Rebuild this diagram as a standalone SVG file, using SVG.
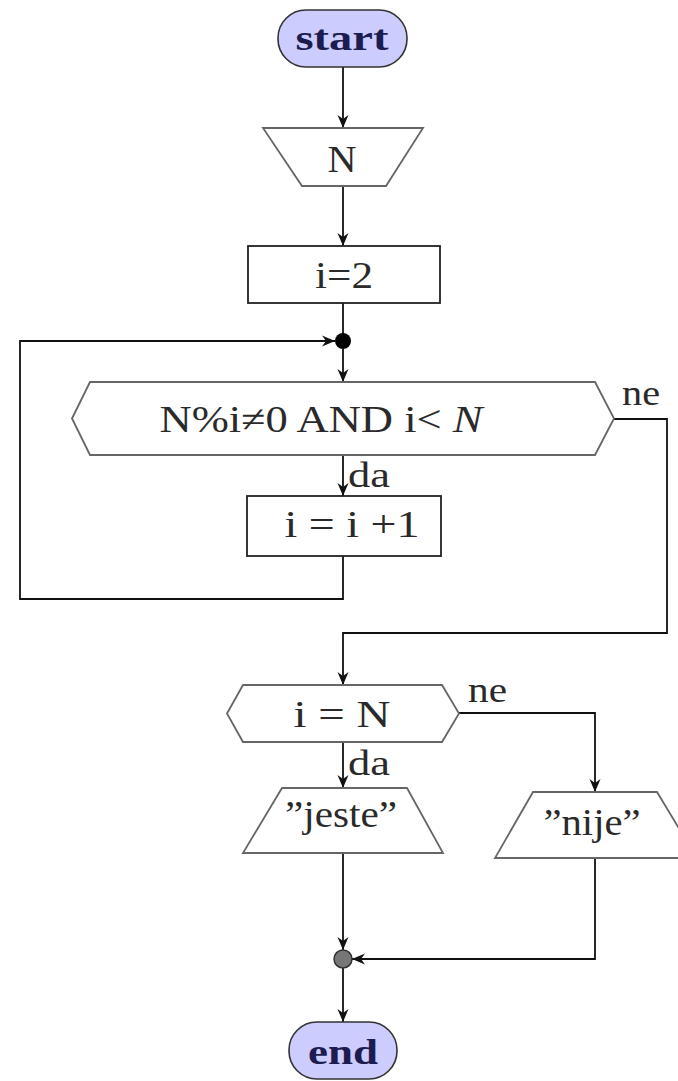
<svg xmlns="http://www.w3.org/2000/svg" width="678" height="1081" viewBox="0 0 678 1081">
<style>
.term{fill:#ccccff;stroke:#333;stroke-width:1.6}
.box{fill:#fff;stroke:#222;stroke-width:1.8}
.shape{fill:#fff;stroke:#666;stroke-width:1.8}
.t{font-family:"Liberation Serif","DejaVu Serif",serif;font-size:38px;fill:#2a2a2a;text-anchor:middle}
.tb{font-family:"Liberation Serif","DejaVu Serif",serif;font-size:36px;font-weight:bold;fill:#1c1c50;text-anchor:middle}
.lbl{font-family:"Liberation Serif","DejaVu Serif",serif;font-size:36px;fill:#2a2a2a}
.c{fill:none;stroke:#111;stroke-width:1.8}
</style>
<defs>
<marker id="arr" markerUnits="userSpaceOnUse" markerWidth="16" markerHeight="14" viewBox="-15 -7 16 14" refX="0" refY="0" orient="auto">
<path d="M-13,-5.5 L0,0 L-13,5.5 L-9,0 z" fill="#111"/>
</marker>
</defs>
<g id="connectors">
<path class="c" d="M343,67 V128" marker-end="url(#arr)"/>
<path class="c" d="M343,186 V246" marker-end="url(#arr)"/>
<path class="c" d="M343,303 V336"/>
<path class="c" d="M343,349 V382" marker-end="url(#arr)"/>
<path class="c" d="M343,455 V496" marker-end="url(#arr)"/>
<path class="c" d="M343,556 V599 H20 V341 H335" marker-end="url(#arr)"/>
<path class="c" d="M614,419 H667 V633 H343 V685" marker-end="url(#arr)"/>
<path class="c" d="M343,742 V788" marker-end="url(#arr)"/>
<path class="c" d="M459,713 H595 V792" marker-end="url(#arr)"/>
<path class="c" d="M343,853 V950" marker-end="url(#arr)"/>
<path class="c" d="M595,858 V959 H352" marker-end="url(#arr)"/>
<path class="c" d="M343,968 V1022" marker-end="url(#arr)"/>
<text class="lbl" x="348" y="487" textLength="42" lengthAdjust="spacingAndGlyphs">da</text>
<text class="lbl" x="622" y="405" textLength="38" lengthAdjust="spacingAndGlyphs">ne</text>
<text class="lbl" x="468" y="702" textLength="39" lengthAdjust="spacingAndGlyphs">ne</text>
<text class="lbl" x="348" y="775" textLength="42" lengthAdjust="spacingAndGlyphs">da</text>
</g>
<g id="start">
<rect class="term" x="278" y="10" width="129" height="57" rx="28"/>
<text class="tb" x="342" y="50" textLength="93" lengthAdjust="spacingAndGlyphs">start</text>
</g>
<g id="inputN">
<polygon class="shape" points="263,128 423,128 386,186 302,186"/>
<text class="t" x="342" y="172" textLength="29" lengthAdjust="spacingAndGlyphs">N</text>
</g>
<g id="init">
<rect class="box" x="248" y="246" width="192" height="57"/>
<text class="t" x="344" y="288" textLength="58" lengthAdjust="spacingAndGlyphs">i=2</text>
</g>
<g id="join1">
<circle cx="343" cy="341" r="8" fill="#000"/>
</g>
<g id="loopcond">
<polygon class="shape" points="72,418.5 90,382 595,382 614,418.5 595,455 90,455"/>
<text class="t" x="321" y="432" textLength="323" lengthAdjust="spacingAndGlyphs">N%i≠0 AND i&lt; <tspan font-style="italic">N</tspan></text>
</g>
<g id="incr">
<rect class="box" x="247" y="496" width="194" height="60"/>
<text class="t" x="352" y="537" textLength="135" lengthAdjust="spacingAndGlyphs">i = i +1</text>
</g>
<g id="cond2">
<polygon class="shape" points="227,713.5 243,685 442,685 459,713.5 442,742 243,742"/>
<text class="t" x="342" y="727" textLength="97" lengthAdjust="spacingAndGlyphs">i = N</text>
</g>
<g id="outYes">
<polygon class="shape" points="282,788 407,788 443,853 243,853"/>
<text class="t" x="341" y="827" textLength="112" lengthAdjust="spacingAndGlyphs">”jeste”</text>
</g>
<g id="outNo">
<polygon class="shape" points="533,792 657,792 697,858 495,858"/>
<text class="t" x="592" y="835" textLength="97" lengthAdjust="spacingAndGlyphs">”nije”</text>
</g>
<g id="join2">
<circle cx="343" cy="959" r="9" fill="#777" stroke="#333" stroke-width="1.5"/>
</g>
<g id="end">
<rect class="term" x="289" y="1022" width="108" height="57" rx="28"/>
<text class="tb" x="343" y="1064" textLength="70" lengthAdjust="spacingAndGlyphs">end</text>
</g>
</svg>
